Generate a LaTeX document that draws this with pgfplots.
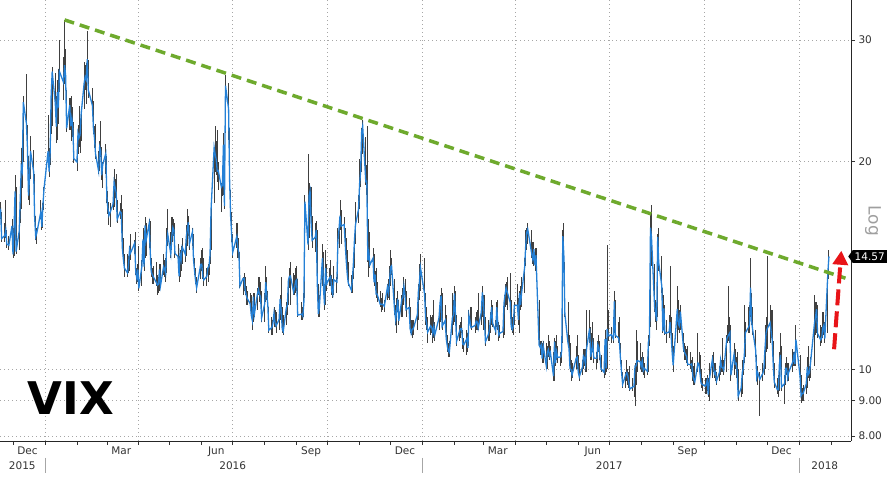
\documentclass[border=0pt]{standalone}
\usepackage{pgfplots}
\pgfplotsset{compat=1.18}
\usepackage{pgfplotstable}
\usetikzlibrary{arrows.meta,shapes.symbols}
\usepackage{fontspec}
\setmainfont{DejaVu Sans}

\definecolor{vixblue}{RGB}{36,128,214}
\definecolor{trendgreen}{RGB}{110,170,45}
\definecolor{arrowred}{RGB}{232,20,24}
\definecolor{labelgray}{RGB}{51,51,51}

% daily VIX: day (0 = 1 Jan 2016), close, high, low
\pgfplotstableread{
d c h l
-44 16.85 18.6 16.4
-43 16.99 17.5 16.5
-42 15.47 16.9 15.3
-39 15.62 16.3 15.3
-38 15.93 17.6 15.5
-37 15.19 15.9 15.0
-35 15.12 15.6 14.9
-32 16.13 16.5 15.1
-31 14.67 16.0 14.5
-30 15.91 16.2 14.6
-29 18.11 19.1 15.6
-28 14.81 18.4 14.7
-25 15.84 16.6 14.9
-24 17.60 18.5 16.3
-23 19.61 20.9 17.1
-22 19.34 19.9 18.3
-21 24.39 24.9 20.0
-18 22.73 26.81 21.9
-17 20.95 22.6 20.2
-16 17.86 20.4 17.6
-15 18.94 19.6 17.3
-14 20.70 21.8 18.9
-11 19.34 20.8 18.9
-10 16.60 19.2 16.4
-9 15.57 16.7 15.4
-8 15.74 16.0 15.2
-4 16.91 17.6 16.5
-3 16.08 16.8 15.9
-2 17.29 17.4 16.0
-1 18.21 18.4 17.0
3 20.70 23.4 19.8
4 19.34 20.9 19.0
5 20.59 21.9 19.8
6 24.99 26.1 21.9
7 27.01 27.4 22.5
10 24.30 26.9 23.4
11 22.47 24.9 21.3
12 25.22 26.3 21.5
13 23.95 27.2 22.7
14 27.02 30.0 25.2
18 26.05 28.4 24.6
19 27.59 32.09 25.9
20 26.69 29.1 25.4
21 22.34 25.4 22.1
24 24.15 24.7 22.2
25 22.50 24.7 22.2
26 23.11 24.9 21.4
27 22.42 24.0 21.7
28 20.20 22.8 19.9
31 19.98 21.4 19.4
32 21.98 22.6 20.5
33 21.65 24.1 21.0
34 21.84 22.4 20.6
35 23.38 23.8 21.4
38 26.00 27.9 23.8
39 26.54 27.6 25.4
40 26.29 27.8 24.2
41 28.14 30.9 26.6
42 25.40 28.1 24.7
46 24.11 25.6 23.6
47 22.31 24.5 21.9
48 21.64 22.5 20.9
49 20.53 22.7 20.2
52 19.38 20.7 19.2
53 20.98 21.4 19.4
54 20.72 22.9 20.3
55 19.11 21.0 18.8
56 19.81 20.0 18.3
59 20.55 21.2 19.2
60 17.70 20.4 17.4
61 17.09 18.1 16.8
62 16.70 17.5 16.2
63 16.86 17.4 16.1
66 17.35 18.4 17.0
67 18.67 19.5 17.2
68 18.34 18.9 17.7
69 18.05 19.2 16.9
70 16.50 17.6 16.3
73 16.92 17.4 16.5
74 16.84 17.9 16.4
75 14.99 17.1 14.8
76 14.44 15.5 14.2
77 14.02 14.7 13.6
80 13.79 14.7 13.6
81 14.17 14.6 13.8
82 14.94 15.1 13.9
83 14.74 15.7 14.4
87 15.24 15.4 14.7
88 13.82 15.8 13.7
89 13.56 14.0 13.3
90 13.95 14.2 13.4
91 13.10 15.1 13.0
94 14.12 14.4 13.2
95 15.42 16.0 14.6
96 14.09 15.5 13.9
97 16.16 16.6 14.5
98 15.36 16.3 14.6
101 16.26 16.5 15.0
102 14.85 16.4 14.7
103 13.84 14.5 13.6
104 13.72 14.0 13.3
105 13.62 14.1 13.3
108 13.35 14.3 13.2
109 13.24 13.7 12.8
110 13.28 13.6 12.9
111 13.95 14.2 13.0
112 13.22 14.2 13.1
115 14.08 14.7 13.7
116 13.96 14.4 13.6
117 13.77 14.5 13.4
118 15.22 16.0 13.8
119 15.70 17.1 15.1
122 14.68 15.8 14.5
123 15.60 16.6 14.9
124 16.05 16.6 15.3
125 15.91 16.5 15.6
126 14.72 16.3 14.5
129 14.57 15.2 14.3
130 13.63 14.6 13.4
131 14.69 14.9 13.6
132 14.41 15.1 13.9
133 15.04 15.5 14.2
136 14.68 15.2 14.3
137 15.57 16.2 14.6
138 15.95 17.1 15.1
139 16.33 16.7 15.6
140 15.20 16.2 14.9
143 15.82 16.0 15.1
144 14.42 15.7 14.3
145 13.90 14.5 13.7
146 13.43 14.0 13.3
147 13.12 13.6 12.9
151 14.19 14.5 13.5
152 14.20 14.9 13.9
153 13.63 15.0 13.5
154 13.47 14.5 13.2
157 13.65 14.0 13.2
158 14.05 14.2 13.4
159 14.08 14.4 13.7
160 14.64 14.9 14.2
161 17.03 17.3 14.9
164 20.97 21.0 17.4
165 20.50 22.5 19.3
166 20.14 21.4 19.1
167 19.37 22.2 18.7
168 19.41 20.0 18.2
171 18.37 18.6 16.9
172 18.48 19.1 17.8
173 21.17 22.0 17.9
174 17.25 19.8 17.1
175 25.76 26.72 22.0
178 23.85 26.0 21.5
179 18.75 22.4 18.5
180 16.64 18.2 16.5
181 15.63 16.9 15.3
182 14.77 15.7 14.5
186 15.58 16.3 15.0
187 14.96 16.3 14.5
188 14.76 15.5 14.5
189 13.20 14.8 13.1
192 13.54 13.6 12.8
193 13.55 13.8 13.0
194 13.04 13.6 12.8
195 12.82 13.2 12.4
196 12.67 13.0 12.4
199 12.44 12.9 12.3
200 11.97 12.8 11.9
201 11.77 12.1 11.4
202 12.74 12.9 11.7
203 12.02 12.9 11.9
206 12.87 13.1 12.2
207 13.05 13.6 12.8
208 12.83 13.6 12.5
209 12.72 13.4 12.5
210 11.87 13.0 11.7
213 12.44 12.9 11.7
214 13.37 14.1 12.5
215 12.86 13.6 12.6
216 12.42 13.0 12.3
217 11.39 12.3 11.3
220 11.50 11.9 11.2
221 11.66 11.8 11.2
222 12.05 12.3 11.5
223 11.68 12.2 11.5
224 11.55 12.1 11.3
227 11.81 11.9 11.4
228 12.64 12.8 11.8
229 12.19 13.6 12.0
230 11.43 12.3 11.3
231 11.34 12.0 11.2
234 12.27 12.5 11.6
235 12.38 12.6 12.0
236 13.45 13.5 12.4
237 13.63 14.0 13.1
238 13.65 14.3 12.4
241 12.94 13.8 12.8
242 13.12 13.7 12.8
243 13.42 14.0 12.9
244 13.48 14.1 13.0
245 11.98 13.5 11.9
249 12.02 12.5 11.8
250 11.94 12.3 11.8
251 12.51 12.9 11.9
252 17.50 17.9 12.7
255 15.16 20.5 14.9
256 17.85 18.6 15.5
257 18.14 18.4 16.9
258 16.30 18.4 16.1
259 15.37 16.7 15.0
262 15.53 16.3 14.8
263 15.92 16.4 15.2
264 13.30 15.9 13.2
265 12.02 13.3 11.9
266 12.29 12.8 11.9
269 14.50 15.2 13.2
270 13.10 14.8 13.0
271 12.39 13.3 12.2
272 14.02 14.9 12.4
273 13.29 14.2 13.0
276 13.57 14.0 13.2
277 13.63 14.4 13.2
278 12.99 13.7 12.8
279 12.84 13.5 12.7
280 13.48 14.1 12.8
283 13.38 13.6 12.9
284 15.36 16.0 13.5
285 15.91 16.3 15.0
286 16.69 17.6 15.9
287 16.12 17.0 15.2
290 16.21 16.6 15.7
291 15.28 16.0 15.0
292 14.41 15.5 14.2
293 13.75 14.9 13.6
294 13.34 14.3 13.2
297 13.02 13.7 12.9
298 13.46 13.9 12.9
299 14.24 14.5 13.5
300 15.36 15.4 14.0
301 16.19 17.5 15.2
304 17.06 17.9 16.3
305 18.56 20.2 17.1
306 19.32 19.9 18.4
307 22.08 22.4 19.3
308 22.51 23.01 20.5
311 18.71 21.7 18.5
312 18.74 19.8 17.9
313 14.38 22.5 14.3
314 14.74 16.5 13.6
315 14.17 15.8 14.0
318 14.48 15.0 13.8
319 13.37 14.7 13.2
320 13.72 13.9 13.3
321 12.85 14.0 12.7
322 12.85 13.4 12.5
325 12.42 13.0 12.3
326 12.41 12.7 12.1
327 12.43 12.9 12.2
329 12.34 12.6 12.1
332 13.15 13.3 12.6
333 12.90 13.5 12.7
334 13.33 14.1 12.6
335 14.07 14.9 13.2
336 14.12 14.5 13.7
339 12.14 13.5 12.0
340 11.79 12.4 11.6
341 12.22 12.7 11.3
342 12.64 13.0 12.1
343 11.75 12.6 11.6
346 12.64 12.8 11.9
347 12.72 13.1 11.9
348 13.19 13.6 12.4
349 12.79 13.5 12.6
350 12.20 13.0 11.9
353 12.29 12.7 11.8
354 11.45 12.3 11.3
355 11.27 11.8 11.2
356 11.43 11.8 11.1
357 11.44 11.8 11.2
361 11.99 12.5 11.4
362 12.95 13.3 11.8
363 13.37 14.2 12.6
364 14.04 14.7 13.0
368 12.85 14.5 12.6
369 11.85 12.9 11.6
370 11.67 12.3 11.4
371 11.32 11.9 10.9
374 11.56 12.0 11.2
375 11.49 11.9 11.3
376 11.26 12.0 10.9
377 11.54 12.6 11.1
378 11.23 11.7 11.0
382 11.87 12.3 11.4
383 12.48 12.8 11.7
384 12.78 13.1 12.2
385 11.54 12.9 11.4
388 11.77 12.4 11.5
389 11.07 12.0 10.9
390 10.81 11.2 10.6
391 10.63 10.9 10.4
392 10.58 11.0 10.4
395 11.88 12.9 11.2
396 11.99 12.6 11.6
397 12.88 13.2 11.7
398 11.93 13.0 11.8
399 10.97 12.0 10.8
402 11.37 11.6 11.0
403 11.45 11.7 11.1
404 11.45 11.9 11.3
405 10.88 11.4 10.7
406 10.85 11.1 10.6
409 11.07 11.4 10.5
410 10.74 11.3 10.6
411 11.97 12.2 10.8
412 11.76 12.3 11.5
413 11.49 12.3 11.4
417 11.57 11.9 11.3
418 11.74 12.1 11.4
419 11.71 12.2 11.4
420 11.47 12.9 11.4
423 12.09 12.5 11.6
424 12.92 13.2 11.9
425 12.54 12.8 11.4
426 11.81 12.8 11.6
427 10.96 11.9 10.8
430 11.24 11.8 11.0
431 11.45 11.6 11.0
432 11.86 12.1 11.3
433 12.30 12.6 11.6
434 11.66 12.4 11.5
437 11.35 11.8 11.2
438 12.30 12.5 11.5
439 11.63 12.6 11.4
440 11.21 11.7 11.0
441 11.28 11.6 11.1
444 11.34 11.8 11.1
445 12.47 12.8 11.2
446 12.81 13.3 12.3
447 13.12 13.4 12.4
448 12.96 13.6 12.2
451 12.50 13.8 12.4
452 11.53 12.6 11.4
453 11.42 11.9 11.3
454 11.54 11.8 11.2
455 12.37 12.5 11.6
458 12.38 13.3 12.1
459 11.79 12.7 11.6
460 12.89 13.0 11.3
461 12.39 13.2 12.2
462 12.87 13.6 12.3
465 14.05 14.5 12.9
466 15.07 15.9 14.1
467 15.77 16.0 14.9
468 15.96 16.28 15.2
472 14.66 15.9 14.5
473 14.42 15.3 14.2
474 14.93 15.3 14.1
475 14.15 15.0 13.9
476 14.63 15.0 13.9
479 10.84 12.6 10.8
480 10.76 11.0 10.5
481 10.85 11.0 10.5
482 10.36 10.9 10.2
483 10.82 11.0 10.2
486 10.11 10.9 10.0
487 10.59 10.8 10.0
488 10.68 11.2 10.4
489 10.46 11.0 10.3
490 10.57 10.8 10.4
493 9.77 10.6 9.6
494 10.96 11.1 9.6
495 10.21 11.0 10.1
496 10.60 11.2 10.3
497 10.40 10.8 10.2
500 10.42 10.6 10.1
501 10.65 10.8 10.2
502 15.59 15.9 10.9
503 14.66 16.30 13.9
504 12.04 14.3 11.9
507 10.93 12.5 10.8
508 10.72 11.2 10.5
509 10.02 10.9 9.9
510 9.99 10.3 9.6
511 9.81 10.2 9.7
515 10.38 10.8 10.0
516 10.41 11.2 10.0
517 9.89 10.5 9.8
518 9.75 10.2 9.6
521 10.07 10.3 9.8
522 10.45 10.7 10.0
523 10.39 10.7 10.1
524 10.16 10.7 9.9
525 10.70 12.2 9.9
528 11.46 12.2 10.9
529 10.42 11.5 10.3
530 10.64 11.3 10.3
531 10.90 11.7 10.6
532 10.38 11.1 10.2
535 10.37 10.6 10.0
536 10.86 11.0 10.2
537 10.75 11.2 10.6
538 10.48 11.0 10.3
539 10.02 10.5 9.9
542 9.90 10.6 9.7
543 11.06 11.4 9.8
544 10.03 11.1 9.9
545 11.44 15.16 10.0
546 11.18 12.2 11.0
549 11.22 11.5 10.9
551 11.07 11.9 10.9
552 12.54 13.0 11.3
553 11.19 12.6 11.1
556 11.11 11.7 10.9
557 10.89 11.9 10.8
558 10.30 10.9 10.2
559 9.90 10.3 9.8
560 9.51 9.9 9.4
563 9.82 9.9 9.4
564 9.89 10.3 9.6
565 9.79 10.0 9.5
566 9.58 9.9 9.4
567 9.36 10.1 9.3
570 9.43 9.7 9.3
571 9.43 9.6 9.1
572 10.11 10.2 8.84
573 10.11 11.4 9.5
574 10.29 11.0 9.9
577 10.26 10.9 10.0
578 10.09 10.4 9.9
579 10.28 10.6 9.9
580 9.95 10.4 9.8
581 10.03 10.2 9.7
584 9.93 10.3 9.8
585 10.96 11.2 9.9
586 11.11 12.9 10.8
587 16.04 16.8 11.5
588 15.51 17.28 14.1
591 12.33 14.2 12.1
592 12.04 12.6 11.7
593 11.74 12.3 11.4
594 15.55 15.7 11.9
595 14.26 16.0 13.9
598 13.19 14.6 12.9
599 11.35 13.1 11.3
600 12.25 12.8 11.4
601 11.28 12.4 11.2
602 11.28 11.8 10.9
605 11.32 12.0 11.1
606 11.70 14.1 11.3
607 11.22 11.9 11.0
608 10.59 11.3 10.5
609 10.13 10.8 9.9
613 12.23 13.2 10.9
614 11.63 12.6 11.4
615 11.55 12.2 11.3
616 12.12 12.4 11.4
619 10.73 11.3 10.6
620 10.58 10.9 10.3
621 10.50 10.8 10.3
622 10.44 10.7 10.2
623 10.17 10.8 10.1
626 10.15 10.6 10.0
627 10.18 10.3 9.9
628 9.78 10.4 9.6
629 9.67 10.1 9.5
630 9.59 10.2 9.5
633 10.21 11.3 9.9
634 10.17 10.6 9.9
635 9.87 10.5 9.7
636 9.55 10.0 9.4
637 9.51 9.7 9.3
640 9.45 9.7 9.2
641 9.51 9.7 9.2
642 9.63 9.8 9.3
643 9.19 9.7 9.1
644 9.65 10.2 9.0
647 10.33 10.5 9.7
648 10.08 10.6 9.9
649 9.85 10.2 9.7
650 9.91 10.2 9.6
651 9.61 9.9 9.5
654 9.91 10.1 9.6
655 10.31 10.4 9.8
656 10.07 10.3 9.9
657 10.05 11.1 9.9
658 9.97 10.3 9.8
661 11.07 11.2 9.9
662 11.16 11.6 10.9
663 11.23 13.2 11.0
664 11.30 11.9 10.9
665 9.80 11.6 9.6
668 10.50 10.9 9.8
669 10.18 10.7 10.0
670 10.20 10.4 9.7
671 9.93 10.6 9.8
672 9.14 10.0 9.0
675 9.40 9.6 9.1
676 9.89 10.3 9.2
677 10.03 10.3 9.8
678 10.50 12.4 10.2
679 11.29 11.7 10.4
682 11.50 12.3 11.3
683 11.59 12.4 11.3
684 13.13 14.51 11.9
685 11.76 12.9 11.6
686 11.43 12.3 11.2
689 10.65 11.4 10.4
690 9.73 10.5 9.6
691 9.88 10.1 9.5
693 9.67 9.9 8.56
696 9.87 10.2 9.6
697 10.03 10.4 9.8
698 10.70 11.6 10.0
699 11.28 11.9 10.6
700 11.43 14.58 10.7
703 11.68 12.4 10.9
704 11.33 12.2 11.1
705 11.02 12.2 10.9
706 10.16 11.0 10.1
707 9.58 10.2 9.4
710 9.34 9.7 9.2
711 9.34 9.8 9.1
712 10.18 10.6 9.3
713 10.49 11.3 10.1
714 9.42 10.8 9.3
717 9.53 9.8 8.9
718 10.03 10.2 9.5
719 10.03 10.4 9.8
720 9.72 10.2 9.6
721 9.90 10.2 9.6
725 10.25 10.7 9.9
726 10.47 10.6 10.1
727 10.18 10.6 10.1
728 11.04 11.6 10.1
732 9.77 10.5 9.5
733 9.15 9.8 8.92
734 9.22 9.4 9.0
735 9.22 9.5 9.0
738 9.52 9.8 9.2
739 10.08 10.4 9.4
740 9.82 10.8 9.7
741 9.88 10.1 9.6
742 10.16 10.4 9.7
746 11.66 12.8 10.1
747 11.91 12.5 11.2
748 12.22 12.5 11.3
749 11.27 12.4 11.1
752 11.03 11.6 10.8
753 11.10 11.5 10.9
754 11.47 12.1 11.1
755 11.58 12.1 11.2
756 11.08 11.7 10.9
759 13.84 13.9 11.3
760 14.57 14.9 13.5
}\vix

\begin{document}
\begin{tikzpicture}
\fill[white] (0,-39pt) rectangle (890pt,441pt);
\begin{axis}[
    at={(0,0)}, anchor=south west,
    scale only axis, width=851pt, height=441pt,
    clip=false,
    xmin=-43.6, xmax=781.4,
    ymode=log, ymin=7.87, ymax=34.3,
    axis x line*=bottom, axis y line*=right,
    axis line style={-, black!85, line width=0.8pt},
    xtick={0,91,182,274,366,456,547,639,731},
    xticklabels={},
    minor xtick={-31,31,60,121,152,213,244,305,335,397,425,486,517,578,609,670,700,762},
    extra x ticks={-17,74,166,258,349,439,531,623,714},
    extra x tick labels={Dec,Mar,Jun,Sep,Dec,Mar,Jun,Sep,Dec},
    extra x tick style={grid=none, major tick length=0pt,
        tick label style={yshift=-2.5pt}},
    ytick={8,9,10,20,30},
    yticklabels={8.00,9.00,10,20,30},
    yminorticks=false,
    extra y ticks={14.57},
    extra y tick labels={14.57},
    extra y tick style={grid=none, major tick length=0pt,
        tick label style={shape=signal, signal to=west, signal pointer angle=110,
            fill=black, text=white, inner xsep=2pt, inner ysep=2.5pt, xshift=-3pt,
            font=\fontsize{10.5}{12}\selectfont}},
    tick align=outside,
    major tick length=4pt, minor tick length=4pt,
    tick style={black!80, line width=0.7pt},
    tick label style={font=\fontsize{10.5}{12}\selectfont, text=labelgray},
    grid=major,
    major grid style={gray!70, line width=0.7pt, dash pattern=on 1pt off 3pt},
]
\addplot[draw=none, mark=none, forget plot,
    error bars/.cd, y dir=both, y explicit, error mark=none,
    error bar style={black!75, line width=0.9pt}]
    table[x=d, y=c, y error plus expr=\thisrow{h}-\thisrow{c},
          y error minus expr=\thisrow{c}-\thisrow{l}] {\vix};
\addplot[vixblue, line width=1.3pt, mark=none] table[x=d, y=c] {\vix};

% falling trend line over the highs
\addplot[trendgreen, line width=3.5pt, dash pattern=on 10pt off 6pt] coordinates {
    (19,32.09) (776,13.55)};

% red breakout arrow
\addplot[arrowred, line width=4pt, dash pattern=on 16pt off 6pt,
    -{Triangle[length=14pt,width=15pt]}] coordinates {
    (765,10.69) (772,14.85)};

\node[font=\bfseries\fontsize{45}{45}\selectfont] at (rel axis cs:0.0834,0.0975) {VIX};
\node[rotate=-90, text=gray!75, font=\fontsize{17}{17}\selectfont] at ([xshift=22pt]rel axis cs:1,0.499) {Log};

% year row under the months
\node[text=labelgray, font=\fontsize{10.5}{12}\selectfont] at ([yshift=-25pt]axis cs:-22,7.87) {2015};
\node[text=labelgray, font=\fontsize{10.5}{12}\selectfont] at ([yshift=-25pt]axis cs:182,7.87) {2016};
\node[text=labelgray, font=\fontsize{10.5}{12}\selectfont] at ([yshift=-25pt]axis cs:547,7.87) {2017};
\node[text=labelgray, font=\fontsize{10.5}{12}\selectfont] at ([yshift=-25pt]axis cs:756,7.87) {2018};
\draw[gray!70, line width=0.7pt] ([yshift=-17pt]axis cs:0,7.87) -- ([yshift=-32pt]axis cs:0,7.87);
\draw[gray!70, line width=0.7pt] ([yshift=-17pt]axis cs:366,7.87) -- ([yshift=-32pt]axis cs:366,7.87);
\draw[gray!70, line width=0.7pt] ([yshift=-17pt]axis cs:731,7.87) -- ([yshift=-32pt]axis cs:731,7.87);
\end{axis}
\pgfresetboundingbox
\path[use as bounding box] (0,-39pt) rectangle (890pt,441pt);
\end{tikzpicture}
\end{document}
